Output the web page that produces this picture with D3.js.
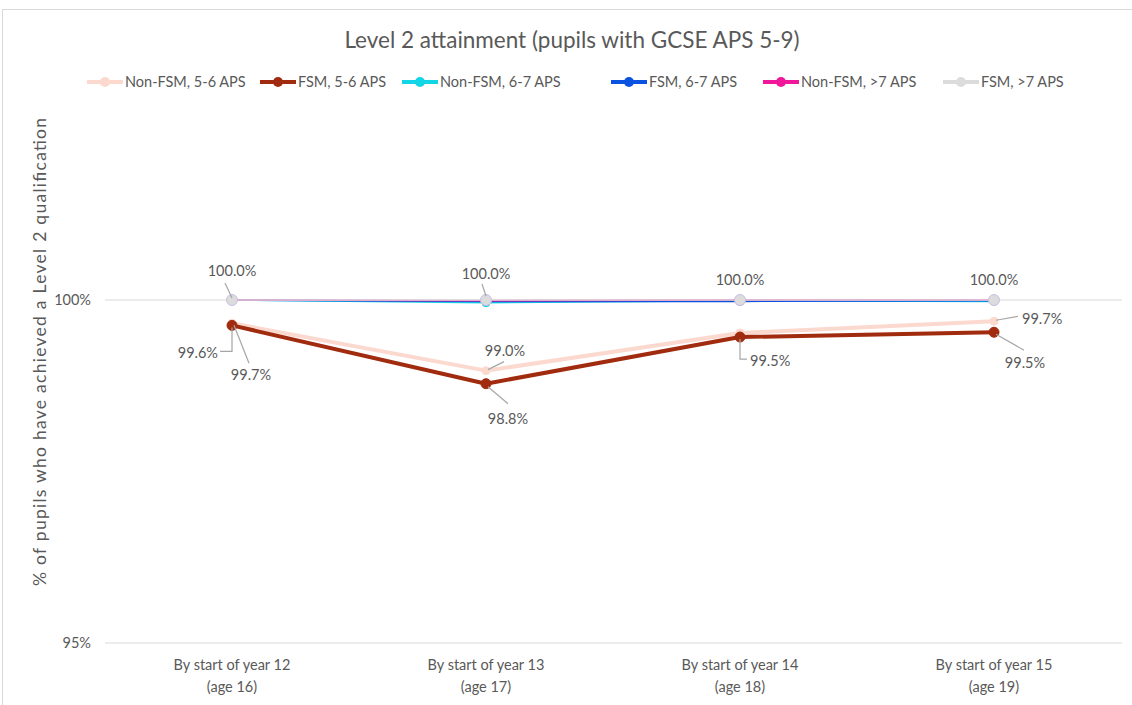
<!DOCTYPE html>
<html>
<head>
<meta charset="utf-8">
<script src="https://cdn.jsdelivr.net/npm/d3@7"></script>
<style>
body { margin: 0; background: #fff; font-family: Lato, "Open Sans", sans-serif; }
</style>
</head>
<body>
<script>
// data
const categories = [["By start of year 12", "(age 16)"], ["By start of year 13", "(age 17)"],
    ["By start of year 14", "(age 18)"], ["By start of year 15", "(age 19)"]];
const seriesNames = ["Non-FSM, 5-6 APS", "FSM, 5-6 APS", "Non-FSM, 6-7 APS", "FSM, 6-7 APS", "Non-FSM, >7 APS", "FSM, >7 APS"];
const nonFsm56 = [99.66, 98.97, 99.52, 99.69];
const fsm56 = [99.63, 98.78, 99.46, 99.53];
const nonFsm67 = [100, 99.96, 99.99, 99.98];
const fsm67 = [100, 99.98, 99.98, 99.99];
const nonFsm7 = [100, 99.99, 100, 100];
const fsm7 = [100, 100, 100, 100];
const yTicks = [95, 100];

const colors = ["#fbd9cf", "#a12b0e", "#12d6e6", "#0a52e0", "#f0179a", "#dcdcdc"];
const widths = [4, 4, 1.6, 1.6, 1.6, 1.6];
const radii = [4, 5, 4, 4, 4, 5.5];
const allSeries = [nonFsm56, fsm56, nonFsm67, fsm67, nonFsm7, fsm7];

let svg = d3.select('body').append('svg')
    .attr('width', 1132)
    .attr('height', 705);

svg.append('rect')
    .attr('x', 2.5).attr('y', 9.5)
    .attr('width', 1140).attr('height', 720)
    .attr('fill', '#fff')
    .attr('stroke', '#d9d9d9');

svg.append('text')
    .attr('x', 572).attr('y', 48)
    .attr('text-anchor', 'middle')
    .attr('font-size', 22.5)
    .attr('fill', '#595959')
    .text('Level 2 attainment (pupils with GCSE APS 5-9)');

let x = d3.scalePoint().domain(d3.range(categories.length)).range([232, 994]);
let y = d3.scaleLinear().domain([95, 100]).range([643, 300]);

// gridlines and y ticks
svg.selectAll('.grid')
    .data(yTicks)
    .enter()
    .append('line')
    .attr('x1', 105).attr('x2', 1122)
    .attr('y1', d => y(d)).attr('y2', d => y(d))
    .attr('stroke', '#d9d9d9')
    .attr('stroke-width', 1);

svg.selectAll('.ytick')
    .data(yTicks)
    .enter()
    .append('text')
    .attr('x', 91).attr('y', d => y(d) + 5)
    .attr('text-anchor', 'end')
    .attr('font-size', 14.5)
    .attr('fill', '#595959')
    .text(d => d + '%');

svg.append('text')
    .attr('transform', 'translate(46,352) rotate(-90)')
    .attr('text-anchor', 'middle')
    .attr('font-size', 17.5)
    .attr('textLength', 468)
    .attr('lengthAdjust', 'spacing')
    .attr('fill', '#595959')
    .text('% of pupils who have achieved a Level 2 qualification');

// category labels
let cat = svg.selectAll('.cat')
    .data(categories)
    .enter()
    .append('text')
    .attr('text-anchor', 'middle')
    .attr('font-size', 14.5)
    .attr('fill', '#595959');
cat.append('tspan').attr('x', (d, i) => x(i)).attr('y', 670).text(d => d[0]);
cat.append('tspan').attr('x', (d, i) => x(i)).attr('y', 692).text(d => d[1]);

// series
let line = d3.line().x((d, i) => x(i)).y(d => y(d));
allSeries.forEach(function (s, k) {
    svg.append('path')
        .attr('d', line(s))
        .attr('fill', 'none')
        .attr('stroke', colors[k])
        .attr('stroke-width', widths[k])
        .attr('stroke-linejoin', 'round');
    svg.selectAll('.m' + k)
        .data(s)
        .enter()
        .append('circle')
        .attr('cx', (d, i) => x(i))
        .attr('cy', d => y(d))
        .attr('r', radii[k])
        .attr('fill', colors[k])
        .attr('stroke', k === 5 ? '#cdbde6' : colors[k])
        .attr('stroke-width', 1);
});

// data labels: series index, point index, label offset, leader path offsets
let fmt = d3.format('.1f');
let labels = [
    {s: 5, i: 0, dx: 0, dy: -29, anchor: 'middle', lead: [[0, -2], [-7, -17]]},
    {s: 1, i: 0, dx: -14, dy: 28, anchor: 'end', lead: [[0, 2], [0, 26], [-12, 26]]},
    {s: 0, i: 0, dx: 19, dy: 52, anchor: 'middle', lead: [[2, 2], [17, 40]]},
    {s: 5, i: 1, dx: 0, dy: -26, anchor: 'middle', lead: [[0, -4], [-4, -16]]},
    {s: 0, i: 1, dx: 19, dy: -20, anchor: 'middle', lead: [[2, -1], [18, -9]]},
    {s: 1, i: 1, dx: 22, dy: 35, anchor: 'middle', lead: [[2, 3], [22, 20]]},
    {s: 5, i: 2, dx: 0, dy: -20, anchor: 'middle', lead: []},
    {s: 1, i: 2, dx: 10, dy: 24, anchor: 'start', lead: [[0, 2], [0, 22], [7, 22]]},
    {s: 5, i: 3, dx: 0, dy: -20, anchor: 'middle', lead: []},
    {s: 0, i: 3, dx: 28, dy: -2, anchor: 'start', lead: [[2, -1], [24, -5]]},
    {s: 1, i: 3, dx: 31, dy: 31, anchor: 'middle', lead: [[2, 2], [30, 18]]}
];
labels.forEach(function (l) {
    let px = x(l.i), py = y(allSeries[l.s][l.i]);
    if (l.lead.length) {
        svg.append('path')
            .attr('d', d3.line()(l.lead.map(p => [px + p[0], py + p[1]])))
            .attr('fill', 'none')
            .attr('stroke', '#a6a6a6')
            .attr('stroke-width', 1.2);
    }
    svg.append('text')
        .attr('x', px + l.dx).attr('y', py + l.dy + 5)
        .attr('text-anchor', l.anchor)
        .attr('font-size', 14.5)
        .attr('fill', '#595959')
        .text(fmt(allSeries[l.s][l.i]) + '%');
});

// legend
let legendX = [87, 260, 402, 611, 763, 943];
let leg = svg.selectAll('.leg')
    .data(seriesNames)
    .enter()
    .append('g')
    .attr('transform', (d, i) => 'translate(' + legendX[i] + ',82)');
leg.append('line')
    .attr('x1', 0).attr('x2', 36)
    .attr('stroke', (d, i) => colors[i])
    .attr('stroke-width', 4);
leg.append('circle')
    .attr('cx', 18).attr('r', 5)
    .attr('fill', (d, i) => colors[i]);
leg.append('text')
    .attr('x', 38).attr('y', 5)
    .attr('font-size', 14.5)
    .attr('fill', '#595959')
    .text(d => d);
</script>
</body>
</html>
